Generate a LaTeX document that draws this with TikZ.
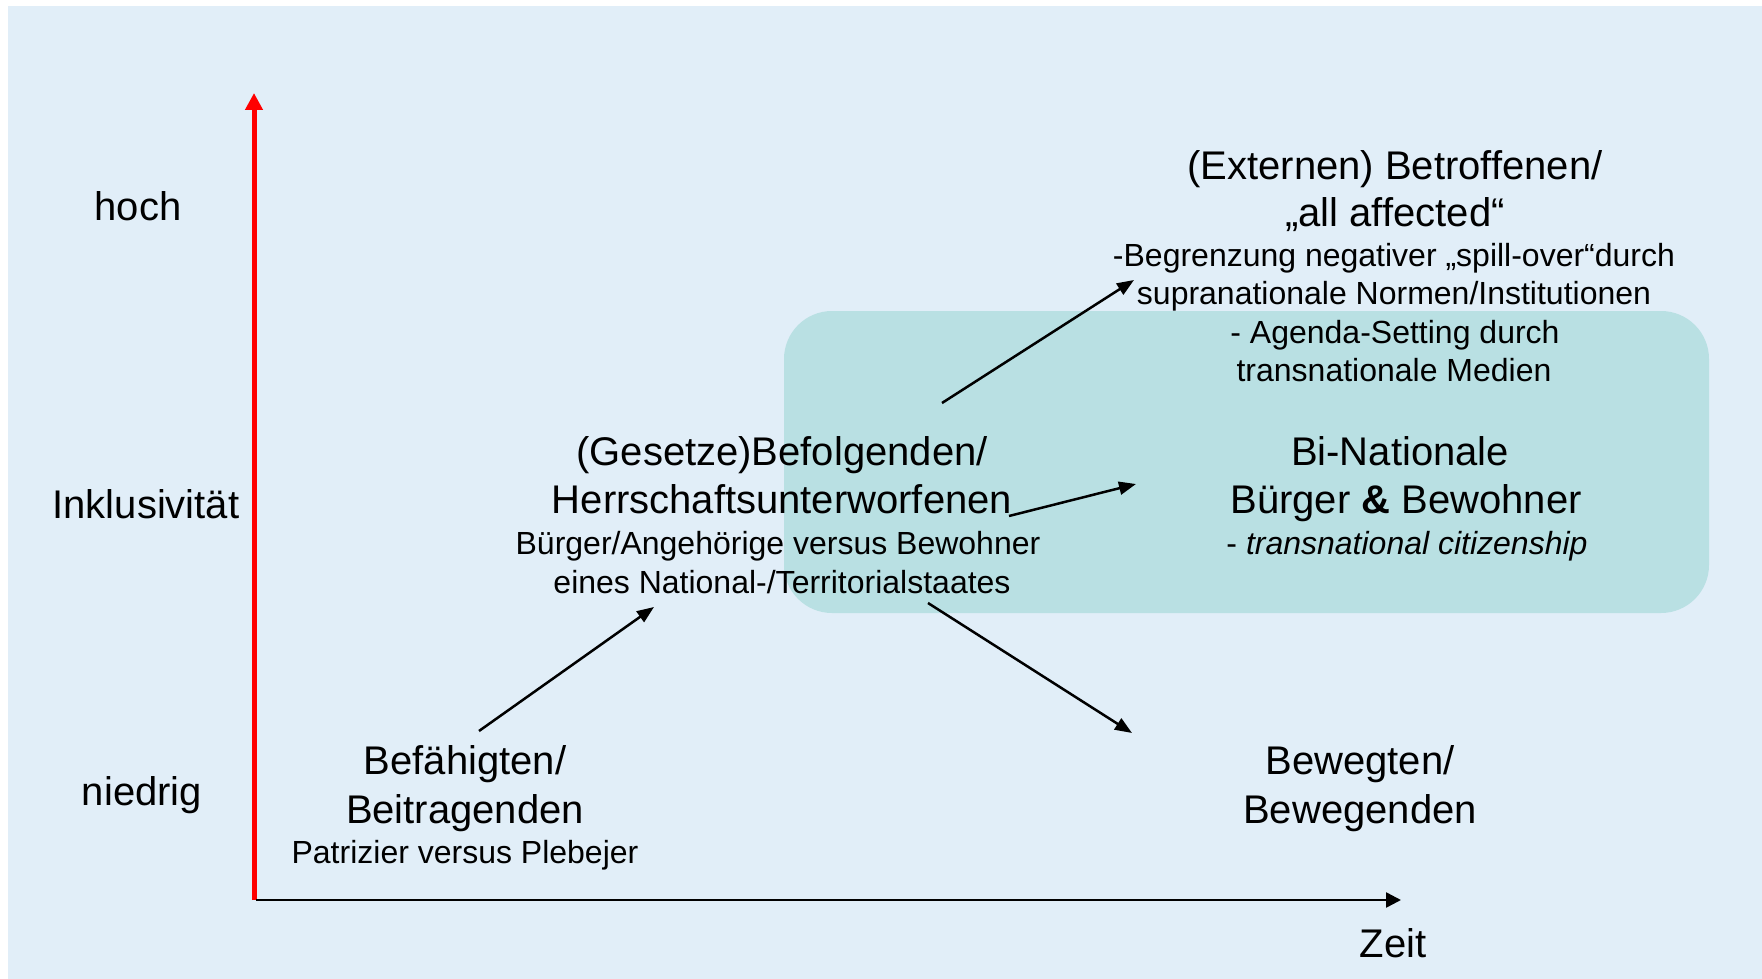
\documentclass[tikz,border=0pt]{standalone}
\usepackage{fontspec}
\setmainfont{Liberation Sans}
\usetikzlibrary{arrows.meta}
\definecolor{bgblue}{HTML}{E1EEF8}
\definecolor{panelteal}{HTML}{B9E0E3}
\definecolor{axisred}{HTML}{FF0000}
\tikzset{
  big/.style={anchor=base, inner sep=0pt, font=\fontsize{40}{48}\selectfont},
  small/.style={anchor=base, inner sep=0pt, font=\fontsize{32}{39}\selectfont},
  flow/.style={line width=2.5pt, -{Triangle[length=17pt,width=13pt]}},
}
\begin{document}
\begin{tikzpicture}[x=1pt,y=-1pt]
% canvas and backdrop
\useasboundingbox (0,0) rectangle (1762,979);
\fill[white] (0,0) rectangle (1762,979);
\fill[bgblue] (8,6) rectangle (1762,979);
\fill[panelteal, rounded corners=48pt] (784,311) rectangle (1709,613);

% axis labels
\node[big] (hoch) at (138,220) {hoch};
\node[big] (inkl) at (146,518) {Inklusivität};
\node[big] (niedrig) at (142,805) {niedrig};
\node[big] (zeit) at (1393,957) {Zeit};

% lower left stage
\node[big] (bef1) at (465,774) {Befähigten/};
\node[big] (bef2) at (465,823) {Beitragenden};
\node[small] (bef3) at (465,863) {Patrizier versus Plebejer};

% middle stage
\node[big] (ges1) at (782,465) {(Gesetze)Befolgenden/};
\node[big] (ges2) at (782,513) {Herrschaftsunterworfenen};
\node[small] (ges3) at (778,554) {Bürger/Angehörige versus Bewohner};
\node[small] (ges4) at (782,593) {eines National-/Territorialstaates};

% upper right stage
\node[big] (ext1) at (1395,179) {(Externen) Betroffenen/};
\node[big] (ext2) at (1395,226) {„all affected“};
\node[small] (ext3) at (1394,266) {-Begrenzung negativer „spill-over“durch};
\node[small] (ext4) at (1394,304) {supranationale Normen/Institutionen};
\node[small] (ext5) at (1395,343) {- Agenda-Setting durch};
\node[small] (ext6) at (1394,381) {transnationale Medien};

% bi-national stage
\node[big] (bi1) at (1400,465) {Bi-Nationale};
\node[big] (bi2) at (1406,513) {Bürger {\bfseries\&} Bewohner};
\node[small] (bi3) at (1407,554) {- \itshape transnational citizenship};

% lower right stage
\node[big] (bew1) at (1360,774) {Bewegten/};
\node[big] (bew2) at (1360,823) {Bewegenden};

% axes
\coordinate (yfoot) at (254,900);
\coordinate (ytip) at (254,93);
\coordinate (xfoot) at (256,900);
\coordinate (xtip) at (1401,900);
\draw[axisred, line width=5pt, -{Triangle[length=17pt,width=17pt]}] (yfoot) -- (ytip);
\draw[line width=2.5pt, -{Triangle[length=15pt,width=15pt]}] (xfoot) -- (xtip);

% development arrows
\coordinate (a1s) at (479,731); \coordinate (a1e) at (654,607);
\coordinate (a2s) at (942,403); \coordinate (a2e) at (1134,280);
\coordinate (a3s) at (1009,516); \coordinate (a3e) at (1136,484);
\coordinate (a4s) at (928,603); \coordinate (a4e) at (1132,733);
\draw[flow] (a1s) -- (a1e);
\draw[flow] (a2s) -- (a2e);
\draw[flow] (a3s) -- (a3e);
\draw[flow] (a4s) -- (a4e);
\end{tikzpicture}
\end{document}
